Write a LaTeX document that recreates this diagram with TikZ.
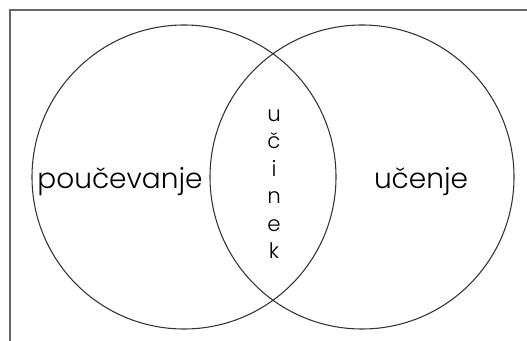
\documentclass[tikz,border=0pt]{standalone}
\usepackage{fontspec}
\setmainfont{Poppins}[UprightFont=* Light]
\usetikzlibrary{positioning}

\begin{document}
\begin{tikzpicture}[x=.75pt,y=-.75pt,
 set/.style={draw=black!80,line width=.8pt,circle,minimum size=228pt,inner sep=0pt},
 lbl/.style={font=\fontsize{21}{25}\selectfont,inner sep=0pt,anchor=base},
 let/.style={font=\fontsize{16}{18}\selectfont,inner sep=0pt,anchor=base}]
\useasboundingbox (0,0) rectangle (527,341);
% frame, cut off at right and bottom
\coordinate (corner) at (10,10);
\draw[black!60,line width=1.1pt] (10,341) -- (corner) -- (527,10);
% the two sets
\node[set] (pouc) at (184,177) {};
\node[set] (ucen) at (362,177) {};
\node[lbl] (tpouc) at (120,189) {poučevanje};
\node[lbl] (tucen) at (421,189) {učenje};
% overlap, written top to bottom
\foreach \l [count=\i] in {u,č,i,n,e,k}
  \node[let] (ucin\i) at (274,94+27.5*\i) {\l};
\end{tikzpicture}
\end{document}
